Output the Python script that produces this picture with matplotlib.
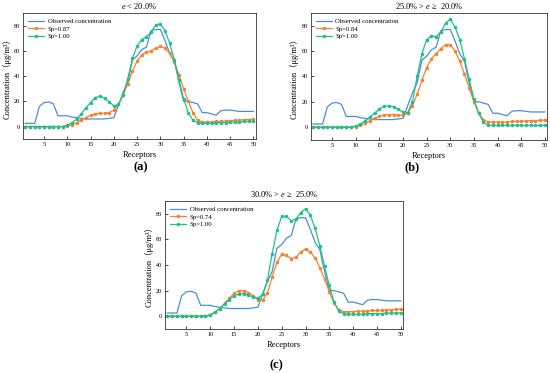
import matplotlib
matplotlib.use("Agg")
import matplotlib.pyplot as plt

plt.rcParams['font.family'] = ['Liberation Serif', 'Noto Sans CJK SC']
plt.rcParams['mathtext.fontset'] = 'custom'
plt.rcParams['mathtext.rm'] = 'Liberation Serif'
plt.rcParams['mathtext.it'] = 'Liberation Serif:italic'

receptors = list(range(1, 51))

observed = [2.5, 2.5, 2.5, 16, 19, 19.5, 18, 8.5, 8.5, 8.5,
            7.5, 7, 6.5, 6, 6, 6, 6, 6, 6.5, 7,
            17, 27, 35, 53, 56, 61, 63, 76, 77, 77,
            68, 58, 52, 35, 20, 20, 19, 18, 11, 11,
            10, 9, 12.5, 13, 13, 12.5, 12, 12, 12, 12]

sp_a = [0, 0, 0, 0, 0, 0, 0, 0, 0, 0.5,
        1.5, 3, 5, 7, 9, 10, 10.5, 10.5, 11, 13,
        18, 25, 34, 44, 52, 57, 59, 60, 62, 63.5,
        62, 58, 51, 41, 30, 20, 11, 5, 3.5, 3.5,
        3.5, 4, 4, 4.5, 4.5, 5, 5, 5.5, 5.5, 6]
full_a = [0, 0, 0, 0, 0, 0, 0, 0, 0, 1,
          3, 6, 10, 15, 19, 23, 24, 22.5, 19.5, 16.5,
          17.5, 25, 38, 54, 64, 69, 71, 75, 80.5, 81.5,
          76, 66, 53, 37, 22, 11, 5, 3, 2.5, 2.5,
          2.5, 3, 3, 3, 3.5, 3.5, 3.5, 4, 4, 4]

sp_b = [0, 0, 0, 0, 0, 0, 0, 0, 0, 0.5,
        1.5, 3, 5, 7, 8.5, 9.5, 10, 10, 9.5, 9.5,
        11, 17, 26, 37, 47, 54, 58, 62, 65, 65,
        60, 52, 42, 31, 20, 11, 6, 4, 4, 4,
        4, 4, 4.5, 4.5, 4.5, 5, 5, 5, 5.5, 5.5]
full_b = [0, 0, 0, 0, 0, 0, 0, 0, 0, 1,
          2.5, 5, 8, 11, 14.5, 16.5, 17, 16, 14, 12,
          11.5, 20, 40, 58, 69, 72, 71.5, 75, 82, 85,
          79, 69, 54, 38, 22, 11, 4, 1.5, 1.5, 1.5,
          1.5, 1.5, 1.5, 1.5, 1.5, 1.5, 1.5, 1.5, 1.5, 1.5]

sp_c = [0, 0, 0, 0, 0, 0, 0, 0, 0, 1,
        3, 6, 10, 14, 18, 20, 20, 18.5, 16, 13,
        12.5, 18, 31, 42, 48.5, 47.5, 45, 46, 50, 52.5,
        50.5, 45.5, 38, 29, 19, 10, 5, 3.5, 3.5, 3.5,
        4, 4, 4, 4.5, 4.5, 4.5, 5, 5, 5.5, 5.5]
full_c = [0, 0, 0, 0, 0, 0, 0, 0, 0, 1,
          3, 6, 9.5, 13, 16, 17.5, 17.5, 16.5, 15, 14,
          17, 28, 49, 67, 78, 78, 74.5, 76, 81, 84,
          79, 69, 55, 39, 24, 11, 4, 2, 1.5, 1.5,
          1.5, 1.5, 2, 2, 2, 2, 2.5, 2.5, 2.5, 2.5]

panels = [
    ([0.042, 0.627, 0.423, 0.338], r"$e$ < 20.0%", "Sp=0.87", sp_a, full_a, "(a)", (0.255, 0.552)),
    ([0.565, 0.625, 0.430, 0.340], r"25.0% > $e$ ≥  20.0%", "Sp=0.84", sp_b, full_b, "(b)", (0.749, 0.552)),
    ([0.300, 0.118, 0.433, 0.343], r"30.0% > $e$ ≥  25.0%", "Sp=0.74", sp_c, full_c, "(c)", (0.502, 0.022)),
]

blue = '#4a8fd6'
orange = '#f7812f'
green = '#1fc08c'

fig = plt.figure(figsize=(5.5, 3.73), dpi=100)

for rect, title, sp_name, sp, full, tag, tag_pos in panels:
    ax = fig.add_axes(rect)
    ax.plot(receptors, observed, color=blue, lw=0.9, label="Observed concentration")
    ax.plot(receptors, sp, color=orange, lw=0.9, marker='o', ms=1.5, label=sp_name)
    ax.plot(receptors, full, color=green, lw=0.9, marker='o', ms=1.5, label="Sp=1.00")
    ax.set_xlim(0.5, 50.5)
    ax.set_ylim(-10, 90)
    ax.set_xticks(range(5, 51, 5))
    ax.set_yticks([0, 20, 40, 60, 80])
    ax.tick_params(labelsize=4.5, direction='in', length=2, width=0.5, pad=2)
    for s in ax.spines.values():
        s.set_linewidth(0.6)
        s.set_color('#333333')
    ax.set_title(title, fontsize=6, pad=3)
    ax.set_xlabel("Receptors", fontsize=6, labelpad=3)
    ax.set_ylabel("Concentration（μg/m³）", fontsize=6, labelpad=2)
    ax.legend(loc='upper left', fontsize=4.8, frameon=False, handlelength=2.4,
              borderaxespad=0.4, labelspacing=0.3, handletextpad=0.5)
    fig.text(tag_pos[0], tag_pos[1], tag, ha='center', va='center',
             fontsize=9, fontweight='bold')

fig.savefig("out.png", dpi=100)
